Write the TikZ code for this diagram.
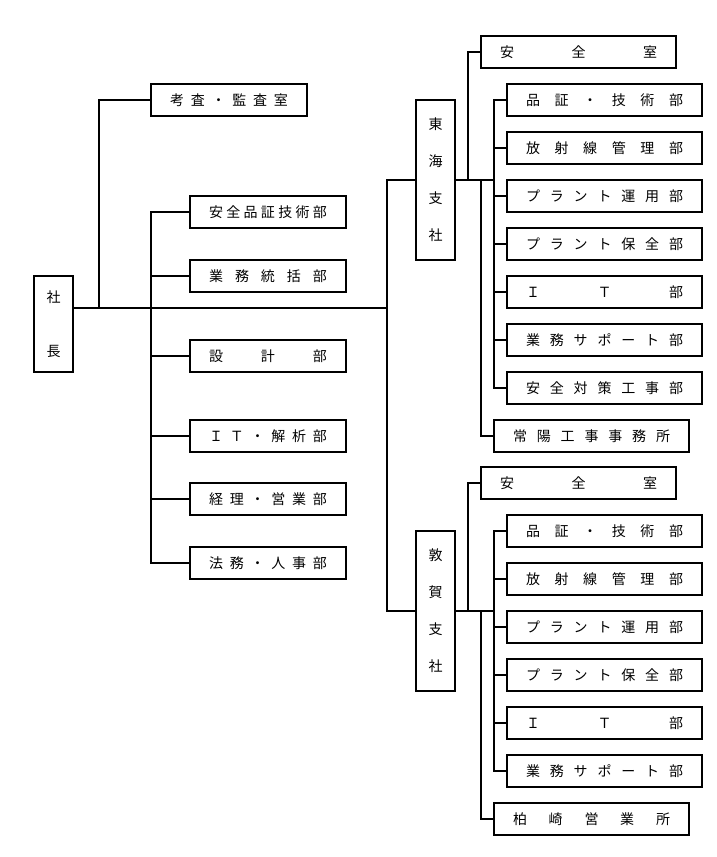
\documentclass[tikz,border=0pt]{standalone}
\usepackage{fontspec}
\setmainfont{Noto Sans CJK JP}
\newcommand{\spr}[2]{\makebox[#1][s]{#2}}
\begin{document}
\begin{tikzpicture}[x=1pt, y=-1pt, line width=1.8pt,
  font=\fontsize{14pt}{37pt}\selectfont,
  sbox/.style={draw, minimum width=156pt, minimum height=32pt, inner sep=0pt},
  bbox/.style={draw, minimum width=195pt, minimum height=32pt, inner sep=0pt},
  vbox/.style={draw, minimum width=39pt, inner sep=0pt, align=center}]
\useasboundingbox (0,0) rectangle (717,857);
\node[vbox, minimum height=96pt] (pres) at (53.5,324){社\\[17pt]長};
\node[sbox] (aud) at (229,100){\spr{118pt}{考 査 ・ 監 査 室}};
\node[sbox] (dep1) at (268,212){\spr{118pt}{安 全 品 証 技 術 部}};
\node[sbox] (dep2) at (268,276){\spr{118pt}{業 務 統 括 部}};
\node[sbox] (dep3) at (268,356){\spr{118pt}{設 計 部}};
\node[sbox] (dep4) at (268,436){\spr{118pt}{Ｉ Ｔ ・ 解 析 部}};
\node[sbox] (dep5) at (268,499){\spr{118pt}{経 理 ・ 営 業 部}};
\node[sbox] (dep6) at (268,563){\spr{118pt}{法 務 ・ 人 事 部}};
\coordinate (j0) at (387,308);
\coordinate (j1) at (99,308);
\coordinate (j2) at (151,308);
\draw[](pres.east |- j0) -- (j0);
\draw[](aud.west) -| (j1);
\draw[](dep1.west) -| (j2);
\draw[](dep2.west) -| (j2);
\draw[](dep3.west) -| (j2);
\draw[](dep4.west) -| (j2);
\draw[](dep5.west) -| (j2);
\draw[](dep6.west) -| (j2);
% Tokai
\node[vbox, minimum height=160pt] (tk) at (435.5,180){東\\海\\支\\社};
\node[bbox] (tk0) at (578.5,52){\spr{157pt}{安 全 室}};
\node[bbox] (tk1) at (604.5,100){\spr{157pt}{品 証 ・ 技 術 部}};
\node[bbox] (tk2) at (604.5,148){\spr{157pt}{放 射 線 管 理 部}};
\node[bbox] (tk3) at (604.5,196){\spr{157pt}{プ ラ ン ト 運 用 部}};
\node[bbox] (tk4) at (604.5,244){\spr{157pt}{プ ラ ン ト 保 全 部}};
\node[bbox] (tk5) at (604.5,292){\spr{157pt}{Ｉ Ｔ 部}};
\node[bbox] (tk6) at (604.5,340){\spr{157pt}{業 務 サ ポ ー ト 部}};
\node[bbox] (tk7) at (604.5,388){\spr{157pt}{安 全 対 策 工 事 部}};
\node[bbox] (tk8) at (591.5,436){\spr{157pt}{常 陽 工 事 事 務 所}};
\coordinate (tkA) at (468,180);
\coordinate (tkB) at (481,180);
\coordinate (tkC) at (494,180);
\draw[](tk.east) -- (tkC);
\draw[](tk0.west) -| (tkA);
\draw[](tk8.west) -| (tkB);
\draw[](tk1.west) -| (tkC);
\draw[](tk2.west) -| (tkC);
\draw[](tk3.west) -| (tkC);
\draw[](tk4.west) -| (tkC);
\draw[](tk5.west) -| (tkC);
\draw[](tk6.west) -| (tkC);
\draw[](tk7.west) -| (tkC);
% Tsuruga
\node[vbox, minimum height=160pt] (tr) at (435.5,611){敦\\賀\\支\\社};
\node[bbox] (tr0) at (578.5,483){\spr{157pt}{安 全 室}};
\node[bbox] (tr1) at (604.5,531){\spr{157pt}{品 証 ・ 技 術 部}};
\node[bbox] (tr2) at (604.5,579){\spr{157pt}{放 射 線 管 理 部}};
\node[bbox] (tr3) at (604.5,627){\spr{157pt}{プ ラ ン ト 運 用 部}};
\node[bbox] (tr4) at (604.5,675){\spr{157pt}{プ ラ ン ト 保 全 部}};
\node[bbox] (tr5) at (604.5,723){\spr{157pt}{Ｉ Ｔ 部}};
\node[bbox] (tr6) at (604.5,771){\spr{157pt}{業 務 サ ポ ー ト 部}};
\node[bbox] (tr7) at (591.5,819){\spr{157pt}{柏 崎 営 業 所}};
\coordinate (trA) at (468,611);
\coordinate (trB) at (481,611);
\coordinate (trC) at (494,611);
\draw[](tr.east) -- (trC);
\draw[](tr0.west) -| (trA);
\draw[](tr7.west) -| (trB);
\draw[](tr1.west) -| (trC);
\draw[](tr2.west) -| (trC);
\draw[](tr3.west) -| (trC);
\draw[](tr4.west) -| (trC);
\draw[](tr5.west) -| (trC);
\draw[](tr6.west) -| (trC);
% branches
\draw[](tk.west) -| (j0) |- (tr.west);
\end{tikzpicture}
\end{document}
